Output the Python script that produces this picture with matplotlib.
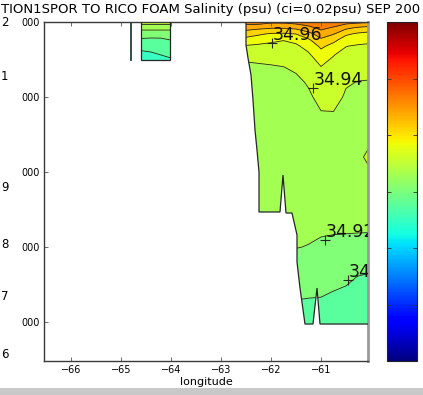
import numpy as np
import matplotlib
matplotlib.use("Agg")
import matplotlib.pyplot as plt
from matplotlib.path import Path
from matplotlib.patches import PathPatch, Rectangle
import matplotlib.colors as mcolors
import matplotlib.cm as cm

# ---------------- data ----------------
title_text = "TION1SPOR TO RICO FOAM Salinity (psu) (ci=0.02psu) SEP 200"
xlabel_text = "longitude"
x_ticks = [-66, -65, -64, -63, -62, -61]
y_ticks = [7, 8, 9, 10, 11]
y_ticklabels = ["000", "000", "000", "000", "000"]
stray_digits = ["2", "1", "9", "8", "7", "6"]

levels = [34.86, 34.88, 34.90, 34.92, 34.94, 34.96, 34.98, 35.00, 35.02, 35.04, 35.06]
sal_vmin, sal_vmax = 34.686, 35.13

# main section (east)
main_lon = [-62.5, -62.25, -62.0, -61.75, -61.5, -61.25, -61.0, -60.75, -60.5, -60.25, -60.0]
main_y = [11.0, 10.92, 10.84, 10.76, 10.68, 10.56, 10.4, 10.2, 10.0, 9.8, 9.6,
          9.2, 8.8, 8.4, 8.0, 7.6, 7.3, 7.0, 6.9]
main_sal = [
    [35.030, 35.030, 35.024, 35.024, 35.028, 35.033, 35.040, 35.034, 35.028, 35.025, 35.022],
    [35.007, 35.004, 35.001, 35.001, 35.004, 35.013, 35.025, 35.017, 35.004, 34.996, 34.992],
    [34.989, 34.983, 34.9775, 34.977, 34.980, 34.993, 35.010, 35.001, 34.983, 34.9764, 34.973],
    [34.9725, 34.9675, 34.9625, 34.9605, 34.965, 34.9767, 34.996, 34.985, 34.9705, 34.9655, 34.963],
    [34.9587, 34.957, 34.957, 34.9556, 34.957, 34.9667, 34.984, 34.974, 34.9605, 34.9584, 34.9578],
    [34.9467, 34.947, 34.949, 34.949, 34.951, 34.957, 34.972, 34.9605, 34.9554, 34.9535, 34.9528],
    [34.935, 34.937, 34.938, 34.9398, 34.943, 34.950, 34.9595, 34.9556, 34.949, 34.947, 34.946],
    [34.932, 34.933, 34.933, 34.934, 34.936, 34.942, 34.952, 34.950, 34.9415, 34.9395, 34.939],
    [34.930, 34.930, 34.930, 34.931, 34.933, 34.937, 34.9455, 34.9455, 34.938, 34.937, 34.936],
    [34.930, 34.930, 34.930, 34.930, 34.932, 34.934, 34.9395, 34.9398, 34.936, 34.936, 34.935],
    [34.930, 34.930, 34.930, 34.930, 34.931, 34.933, 34.935, 34.936, 34.935, 34.935, 34.934],
    [34.929, 34.929, 34.930, 34.930, 34.930, 34.931, 34.932, 34.932, 34.934, 34.937, 34.9445],
    [34.927, 34.927, 34.928, 34.928, 34.927, 34.928, 34.929, 34.929, 34.930, 34.932, 34.934],
    [34.925, 34.925, 34.925, 34.925, 34.924, 34.925, 34.925, 34.925, 34.926, 34.927, 34.928],
    [34.923, 34.923, 34.922, 34.922, 34.9205, 34.9195, 34.9175, 34.9165, 34.9153, 34.9138, 34.9126],
    [34.910, 34.910, 34.910, 34.910, 34.9096, 34.9079, 34.907, 34.905, 34.9026, 34.8995, 34.898],
    [34.900, 34.900, 34.900, 34.900, 34.9002, 34.8995, 34.8992, 34.897, 34.896, 34.895, 34.894],
    [34.893, 34.893, 34.893, 34.893, 34.893, 34.893, 34.893, 34.892, 34.892, 34.892, 34.891],
    [34.890, 34.890, 34.890, 34.890, 34.890, 34.890, 34.890, 34.890, 34.890, 34.890, 34.890],
]
main_bound_lon = [-62.50, -60.00, -60.00, -61.02, -61.08, -61.16, -61.32, -61.42, -61.48,
                  -61.48, -61.58, -61.70, -61.76, -61.82, -62.24, -62.24, -62.28, -62.32,
                  -62.36, -62.40, -62.46, -62.50]
main_bound_y = [11.10, 11.10, 6.973, 6.973, 7.453, 6.973, 6.973, 7.453, 7.80,
                8.16, 8.453, 8.453, 8.96, 8.467, 8.467, 9.00, 9.293, 9.56,
                9.96, 10.293, 10.52, 10.693]

# small western patch
patch_lon = [-64.6, -64.4, -64.2, -64.0]
patch_y = [11.0, 10.947, 10.893, 10.827, 10.76, 10.68, 10.6, 10.52, 10.467]
patch_sal = [
    [34.947, 34.947, 34.947, 34.947],
    [34.933, 34.933, 34.933, 34.933],
    [34.9201, 34.9201, 34.9201, 34.9201],
    [34.9075, 34.906, 34.906, 34.910],
    [34.8967, 34.896, 34.8965, 34.9002],
    [34.8867, 34.888, 34.889, 34.8933],
    [34.878, 34.880, 34.882, 34.8867],
    [34.875, 34.876, 34.878, 34.880],
    [34.873, 34.874, 34.876, 34.878],
]
patch_bound_lon = [-64.60, -64.02, -64.02, -64.60]
patch_bound_y = [11.10, 11.10, 10.493, 10.493]
strip_lon = -64.8
strip_y = [10.493, 11.10]

# contour labels (clabel style: '+' then text)
label_text = ["34.96", "34.94", "34.92", "34.90"]
label_lon = [-61.98, -61.16, -60.92, -60.46]
label_y = [10.72, 10.12, 8.093, 7.56]

# ---------------- figure ----------------
W, H = 423, 395
fig = plt.figure(figsize=(W / 100, H / 100), dpi=100)
fig.patch.set_facecolor("white")

ax_l, ax_r, ax_t, ax_b = 44, 368, 22, 361
ax = fig.add_axes([ax_l / W, 1 - ax_b / H, (ax_r - ax_l) / W, (ax_b - ax_t) / H])
cax = fig.add_axes([387 / W, 1 - ax_b / H, 30 / W, (ax_b - ax_t) / H])

cmap = plt.get_cmap("jet")
norm = mcolors.Normalize(vmin=sal_vmin, vmax=sal_vmax)
line_col = "#262626"

def draw_field(lon, yy, sal, blon, by):
    X, Y = np.meshgrid(lon, yy)
    Z = np.array(sal)
    verts = np.column_stack([blon, by])
    path = Path(np.vstack([verts, verts[:1]]), closed=True)
    clip = PathPatch(path, transform=ax.transData, facecolor="none", edgecolor="none")
    ax.add_patch(clip)
    cf = ax.contourf(X, Y, Z, levels=levels, cmap=cmap, norm=norm, antialiased=False)
    cf.set_clip_path(clip)
    cl = ax.contour(X, Y, Z, levels=levels, colors=line_col, linewidths=0.6)
    cl.set_clip_path(clip)
    ax.add_patch(PathPatch(path, facecolor="none", edgecolor=line_col, lw=0.9, zorder=3))

draw_field(main_lon, main_y, main_sal, main_bound_lon, main_bound_y)
draw_field(patch_lon, patch_y, patch_sal, patch_bound_lon, patch_bound_y)
ax.plot([strip_lon, strip_lon], strip_y, color="#1f3f3a", lw=1.3, zorder=3)

for t, lx, ly in zip(label_text, label_lon, label_y):
    ax.plot([lx], [ly], marker="+", color=line_col, ms=7, mew=0.8, zorder=4)
    ax.text(lx + 0.01, ly - 0.01, t, fontsize=12.5, ha="left", va="bottom", color="#111111",
            clip_on=True, zorder=4)

ax.set_xlim(-66.54, -60.06)
ax.set_ylim(6.48, 11.0)
ax.set_xticks(x_ticks)
ax.set_xticklabels([f"\u2212{abs(v)}" for v in x_ticks], fontsize=7)
ax.set_yticks(y_ticks)
ax.set_yticklabels(y_ticklabels, fontsize=7)
ax.tick_params(direction="in", length=3, width=0.6, top=True, right=False, pad=3,
               color="#555555")
ax.set_xlabel(xlabel_text, fontsize=8, labelpad=1)
for side in ["left", "bottom", "top"]:
    ax.spines[side].set_color("#3a3a3a")
    ax.spines[side].set_linewidth(1.0)
ax.spines["right"].set_color("#9a9a9a")
ax.spines["right"].set_linewidth(2.0)

# colorbar (its tick labels fall outside the picture in the reference)
sm = cm.ScalarMappable(norm=norm, cmap=cmap)
cb = fig.colorbar(sm, cax=cax)
cb.set_ticks(np.linspace(sal_vmin, sal_vmax, 7))
cax.tick_params(direction="in", length=3, width=0.6, left=True, right=True,
                labelright=False, color="#333333")
cb.outline.set_edgecolor("#222222")
cb.outline.set_linewidth(0.8)

# stray y digits (as in the source rendering)
for d, py in zip(stray_digits, [22, 77, 187, 245, 297, 355]):
    fig.text(1 / W, 1 - py / H, d, fontsize=8.5, ha="left", va="center")

# title, fitted to width
tt = fig.text(1 / W, 1 - 10 / H, title_text, fontsize=8, ha="left", va="center")
fig.canvas.draw()
wpx = tt.get_window_extent().width
tt.set_fontsize(8 * 421 / wpx)

# bottom grey band
fig.patches.append(Rectangle((0, 0), 1, 7 / H, transform=fig.transFigure,
                             facecolor="#c8c8c8", edgecolor="none"))

fig.savefig("out.png", dpi=100)
